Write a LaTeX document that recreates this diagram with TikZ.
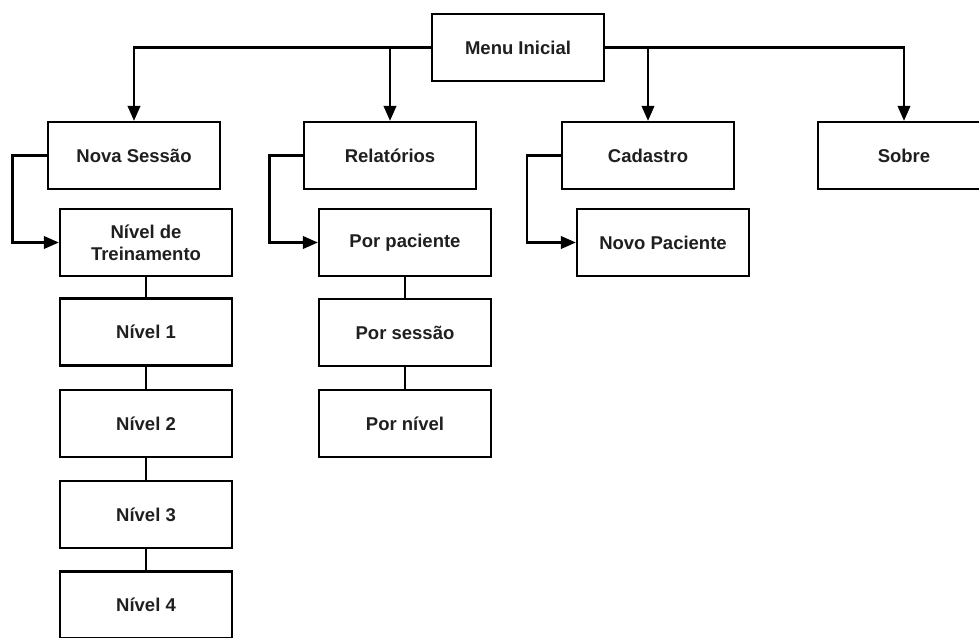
\documentclass[tikz,border=0pt]{standalone}
\usepackage{fontspec}
\setmainfont{Liberation Sans}
\usetikzlibrary{arrows.meta}
\begin{document}
\begin{tikzpicture}[x=1pt,y=-1pt,
  menubox/.style={draw=black, line width=2.3pt, fill=white, minimum width=172pt,
    minimum height=67pt, inner sep=0pt, align=center,
    font=\fontsize{18.5pt}{22pt}\selectfont\bfseries, text=black!88},
  link/.style={line width=2.3pt, line join=miter},
  tolink/.style={link, -{Triangle[length=15pt,width=12.5pt]}}]
\useasboundingbox (0,0) rectangle (979,637);
\clip (0,0) rectangle (979,637);

% top level
\node[menubox] (menu) at (518,47.5) {Menu Inicial};
\node[menubox] (nova) at (134,155.5) {Nova Sessão};
\node[menubox] (rel) at (390,155.5) {Relatórios};
\node[menubox] (cad) at (648,155.5) {Cadastro};
\node[menubox] (sobre) at (904,155.5) {Sobre};

% second level
\node[menubox] (treino) at (146,242.5) {Nível de\\Treinamento};
\node[menubox] (n1) at (146,332) {Nível 1};
\node[menubox] (n2) at (146,423.7) {Nível 2};
\node[menubox] (n3) at (146,514.7) {Nível 3};
\node[menubox] (n4) at (146,605) {Nível 4};

\node[menubox] (ppac) at (405,242.5) {Por paciente};
\node[menubox] (psess) at (405,332.5) {Por sessão};
\node[menubox] (pniv) at (405,423.7) {Por nível};

\node[menubox] (npac) at (663,242.5) {Novo Paciente};

% branches from the main menu
\draw[tolink] (menu.west) -| (nova.north);
\draw[tolink] (menu.west) -| (rel.north);
\draw[tolink] (menu.east) -| (cad.north);
\draw[tolink] (menu.east) -| (sobre.north);

% side elbows into the submenus
\coordinate (ea) at (12.5,155.5);
\coordinate (eb) at (269.5,155.5);
\coordinate (ec) at (527,155.5);
\draw[tolink] (nova.west) -- (ea) |- (treino.west);
\draw[tolink] (rel.west) -- (eb) |- (ppac.west);
\draw[tolink] (cad.west) -- (ec) |- (npac.west);

% plain chains
\draw[link] (treino.south) -- (n1.north);
\draw[link] (n1.south) -- (n2.north);
\draw[link] (n2.south) -- (n3.north);
\draw[link] (n3.south) -- (n4.north);
\draw[link] (ppac.south) -- (psess.north);
\draw[link] (psess.south) -- (pniv.north);
\end{tikzpicture}
\end{document}
